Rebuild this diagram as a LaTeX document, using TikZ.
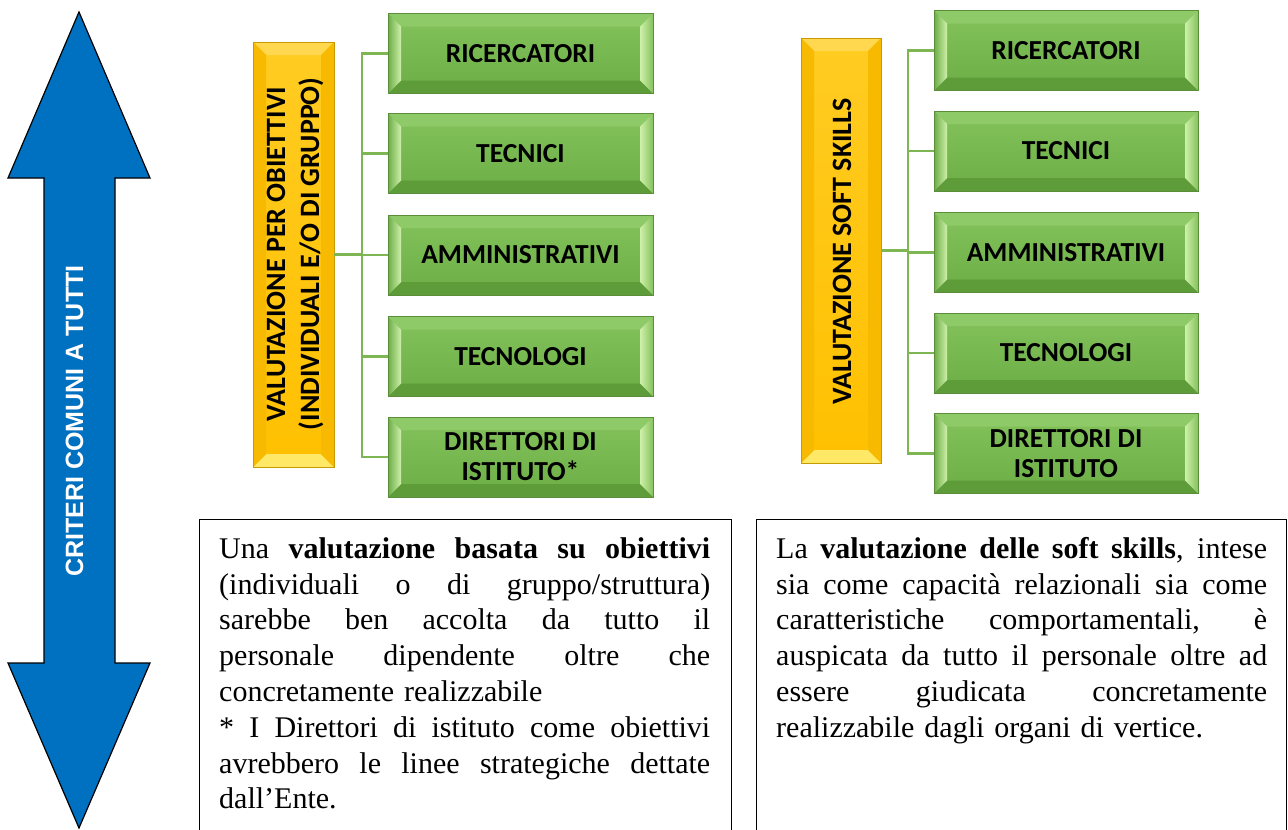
\documentclass[tikz,border=0pt]{standalone}
\usepackage{fontspec}
\setmainfont{Liberation Serif}
\newfontfamily\carl{Carlito}
\newfontfamily\arl{Liberation Sans}
\usetikzlibrary{calc}
\definecolor{gface1}{HTML}{84C35C}
\definecolor{gface2}{HTML}{6CAD46}
\definecolor{gtop}{HTML}{8FCA68}
\definecolor{gbot}{HTML}{5E9C3A}
\definecolor{glight}{HTML}{CFF0AA}
\definecolor{gborder}{HTML}{5A8E3A}
\definecolor{gline}{HTML}{7DB653}
\definecolor{yface1}{HTML}{FFCC22}
\definecolor{yface2}{HTML}{FFC000}
\definecolor{ytop}{HTML}{FFD850}
\definecolor{ybot}{HTML}{FFE866}
\definecolor{yside}{HTML}{F7BA00}
\definecolor{yborder}{HTML}{C99A00}
\definecolor{arrblue}{HTML}{0070C0}
\newcommand\bevelpp[5]{%
  \coordinate (bNW) at (path picture bounding box.north west);
  \coordinate (bNE) at (path picture bounding box.north east);
  \coordinate (bSW) at (path picture bounding box.south west);
  \coordinate (bSE) at (path picture bounding box.south east);
  \coordinate (iNW) at ([shift={(#1,-#1)}]bNW);
  \coordinate (iNE) at ([shift={(-#1,-#1)}]bNE);
  \coordinate (iSW) at ([shift={(#1,#1)}]bSW);
  \coordinate (iSE) at ([shift={(-#1,#1)}]bSE);
  \path[#2] (bNW) -- (bNE) -- (iNE) -- (iNW) -- cycle;
  \path[#3] (bSW) -- (bSE) -- (iSE) -- (iSW) -- cycle;
  \path[#4] (bNW) -- (iNW) -- (iSW) -- (bSW) -- cycle;
  \path[#5] (bNE) -- (iNE) -- (iSE) -- (bSE) -- cycle;
}
\newcommand\jline[1]{\makebox[491pt][s]{\spaceskip=0pt\xspaceskip=0pt\relax #1}}
\tikzset{
  gbox/.style={draw=gborder, line width=0.8pt, top color=gface1, bottom color=gface2,
    minimum width=265pt, minimum height=80pt, inner sep=0pt, align=center,
    font=\carl\bfseries\fontsize{27.5}{30}\selectfont,
    path picture={\bevelpp{13pt}{fill=gtop}{fill=gbot}{left color=gface2, right color=glight}{left color=glight, right color=gface1}}},
  ybox/.style={draw=yborder, line width=0.8pt, top color=yface1, bottom color=yface2,
    minimum width=81pt, minimum height=425pt, inner sep=0pt,
    path picture={\bevelpp{13pt}{fill=ytop}{fill=ybot}{fill=yside}{fill=yside}}},
  ytext/.style={rotate=90, align=center, inner sep=0pt,
    font=\carl\bfseries\fontsize{28}{34}\selectfont},
  conn/.style={draw=gline, line width=2.4pt},
  tbox/.style={draw=black, line width=1pt, anchor=north west, inner sep=0pt},
  ttext/.style={anchor=north west, inner sep=0pt, align=left,
    font=\fontsize{30}{35.8}\selectfont},
}
\begin{document}
\begin{tikzpicture}[x=1pt,y=-1pt]
\useasboundingbox (0,0) rectangle (1288,830);
% double arrow
\draw[fill=arrblue, line width=1.2pt, line join=miter]
  (79,12) -- (150,178) -- (115,178) -- (115,663) -- (150,663) -- (79,828)
  -- (8,663) -- (44,663) -- (44,178) -- (8,178) -- cycle;
\node (crit) [rotate=90, anchor=base, text=white, inner sep=0pt,
  font=\arl\bfseries\fontsize{25}{30}\selectfont] at (83,421) {CRITERI COMUNI A TUTTI};
% groups
\coordinate (tl) at (362,255);
\coordinate (tr) at (908,252.5);
\node (yl) [ybox] at (293.5,254.5) {};
\node (yr) [ybox, minimum width=80pt] at (841,250.5) {};
\node (ylt) [ytext] at (295,254) {VALUTAZIONE PER OBIETTIVI\\(INDIVIDUALI E/O DI GRUPPO)};
\node (yrt) [ytext] at (842,251.5) {VALUTAZIONE SOFT SKILLS};
\draw[conn] (yl.east) -- (yl.east -| tl);
\draw[conn] (yr.east) -- (yr.east -| tr);
\node (l1) [gbox] at (520.5,53.5) {RICERCATORI};
\node (l2) [gbox] at (520.5,153.5) {TECNICI};
\node (l3) [gbox] at (520.5,255) {AMMINISTRATIVI};
\node (l4) [gbox] at (520.5,356.5) {TECNOLOGI};
\node (l5) [gbox] at (520.5,457) {DIRETTORI DI\\ISTITUTO*};
\node (r1) [gbox, minimum width=264pt] at (1066,50.5) {RICERCATORI};
\node (r2) [gbox, minimum width=264pt] at (1066,151) {TECNICI};
\node (r3) [gbox, minimum width=264pt] at (1066,252.5) {AMMINISTRATIVI};
\node (r4) [gbox, minimum width=264pt] at (1066,353) {TECNOLOGI};
\node (r5) [gbox, minimum width=264pt] at (1066,453.5) {DIRETTORI DI\\ISTITUTO};
\foreach \n in {l1,l2,l3,l4,l5} {\draw[conn] (\n.west) -| (tl);}
\foreach \n in {r1,r2,r3,r4,r5} {\draw[conn] (\n.west) -| (tr);}
% text boxes
\node (tbl) [tbox, minimum width=532pt, minimum height=318pt] at (199,519) {};
\node (tbr) [tbox, minimum width=530pt, minimum height=318pt] at (756,519) {};
\node (txl) [ttext, text width=491pt] at (219,533) {%
\rule{0pt}{25pt}\jline{Una \textbf{valutazione basata su obiettivi}}\\
\jline{(individuali o di gruppo/struttura)}\\
\jline{sarebbe ben accolta da tutto il}\\
\jline{personale dipendente oltre che}\\
concretamente realizzabile\\
\jline{* I Direttori di istituto come obiettivi}\\
\jline{avrebbero le linee strategiche dettate}\\
dall’Ente.};
\node (txr) [ttext, text width=491pt] at (776,533) {%
\rule{0pt}{25pt}\jline{La \textbf{valutazione delle soft skills}, intese}\\
\jline{sia come capacità relazionali sia come}\\
\jline{caratteristiche comportamentali, è}\\
\jline{auspicata da tutto il personale oltre ad}\\
\jline{essere giudicata concretamente}\\
realizzabile dagli organi di vertice.};
\end{tikzpicture}
\end{document}
